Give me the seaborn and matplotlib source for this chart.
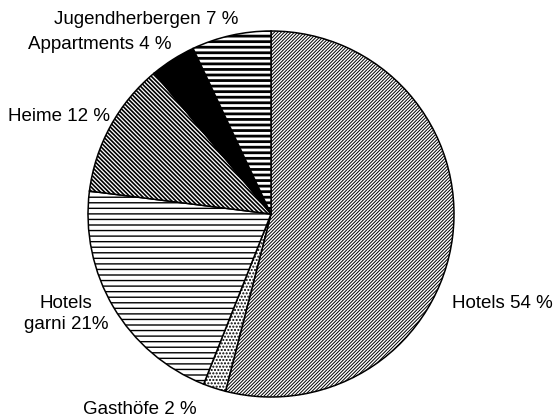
import matplotlib
matplotlib.use("Agg")
import matplotlib.pyplot as plt
import seaborn as sns

# Unterkunftsarten, im Uhrzeigersinn ab 12 Uhr
categories = ["Hotels", "Gasthöfe", "Hotels\ngarni", "Heime", "Appartments", "Jugendherbergen"]
shares = [54, 2, 21, 12, 4, 7]
label_texts = ["Hotels 54 %", "Gasthöfe 2 %", "Hotels\ngarni 21%", "Heime 12 %",
               "Appartments 4 %", "Jugendherbergen 7 %"]

# Schraffur je Segment
hatches = ["/" * 10, "." * 5, "-" * 3, "\\" * 8, "", "-" * 3]
faces = ["white", "white", "white", "white", "black", "white"]
hatch_lw = [0.7, 1.0, 1.0, 1.2, 1.0, 2.0]

# Lage der Beschriftungen (Pixel im Bild) und Ausrichtung
label_px = [(553, 304), (140, 409), (66, 314), (59, 117), (100, 45), (146, 20)]
label_ha = ["right", "center", "center", "center", "center", "center"]

W, H = 554, 419
CX, CY, R = 271, 214, 183

sns.set_style("white")
plt.rcParams["font.family"] = ["Liberation Sans", "DejaVu Sans"]

fig = plt.figure(figsize=(W / 100, H / 100), dpi=100)
ax = fig.add_axes([0, 0, 1, 1])

wedges, _ = ax.pie(shares, startangle=90, counterclock=False, radius=1.0,
                   colors=faces, hatch=hatches,
                   wedgeprops=dict(edgecolor="black", linewidth=1.1))
for w, lw in zip(wedges, hatch_lw):
    if hasattr(w, "set_hatch_linewidth"):
        w.set_hatch_linewidth(lw)

ax.set_xlim(-CX / R, (W - CX) / R)
ax.set_ylim(-(H - CY) / R, CY / R)
ax.set_aspect("auto")
ax.axis("off")

for txt, (px, py), ha in zip(label_texts, label_px, label_ha):
    ax.text((px - CX) / R, (CY - py) / R, txt, ha=ha, va="center",
            fontsize=13.5, linespacing=1.25, color="black")

fig.savefig("out.png", dpi=100)
